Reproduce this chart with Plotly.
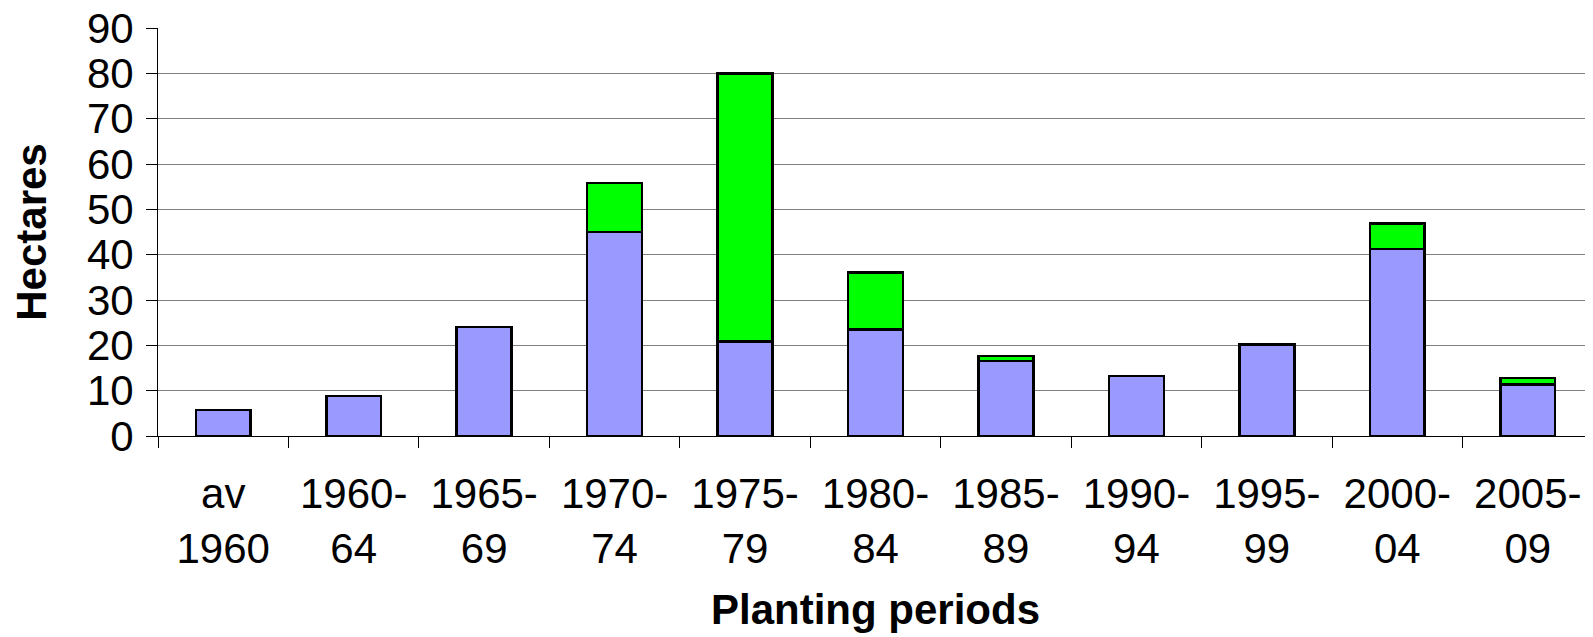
import plotly.graph_objects as go

# -- Data ---------------------------------------------------------------------

periods = ["av<br>1960", "1960-<br>64", "1965-<br>69", "1970-<br>74", "1975-<br>79",
           "1980-<br>84", "1985-<br>89", "1990-<br>94", "1995-<br>99", "2000-<br>04",
           "2005-<br>09"]
lower_ha = [5.7, 8.8, 24.0, 45.0, 20.8, 23.5, 16.5, 13.2, 20.2, 41.2, 11.4]
upper_ha = [0, 0, 0, 10.8, 59.2, 12.6, 1.2, 0, 0, 5.7, 1.4]

# -- Figure -------------------------------------------------------------------

_FONT = "Liberation Sans, Arial, sans-serif"
_OUTLINE = {"color": "#000000", "width": 2.5}

fig = go.Figure()
fig.add_trace(go.Bar(x=periods, y=lower_ha, marker_color="#9999FF", marker_line=_OUTLINE))
fig.add_trace(go.Bar(x=periods, y=upper_ha, marker_color="#00FF00", marker_line=_OUTLINE))

# page body has an 8px margin, so the plot div sits 8px right/down
fig.update_layout(
    barmode="stack",
    bargap=0.58,
    showlegend=False,
    width=1593,
    height=637,
    paper_bgcolor="white",
    plot_bgcolor="white",
    font={"family": _FONT, "size": 42, "color": "#000000"},
    margin={"l": 150, "r": 8, "t": 20, "b": 209},
)
fig.update_xaxes(
    type="category",
    tickson="boundaries",
    ticks="outside",
    ticklen=11,
    tickcolor="#000000",
    showline=True,
    linecolor="#000000",
    linewidth=1,
    ticklabelstandoff=21,
    automargin=False,
    title={"text": "<b>Planting periods</b>", "font": {"size": 42}, "standoff": 23},
)
fig.update_yaxes(
    range=[0, 90],
    dtick=10,
    ticks="outside",
    ticklen=11,
    tickcolor="#000000",
    showline=True,
    linecolor="#000000",
    linewidth=1,
    showgrid=True,
    gridcolor="#808080",
    gridwidth=1,
    zeroline=False,
    ticklabelstandoff=4,
    ticklabeloverflow="allow",
    automargin=False,
    title={"text": "<b>Hectares</b>", "font": {"size": 42}, "standoff": 32},
)

fig.write_html("out.html")
